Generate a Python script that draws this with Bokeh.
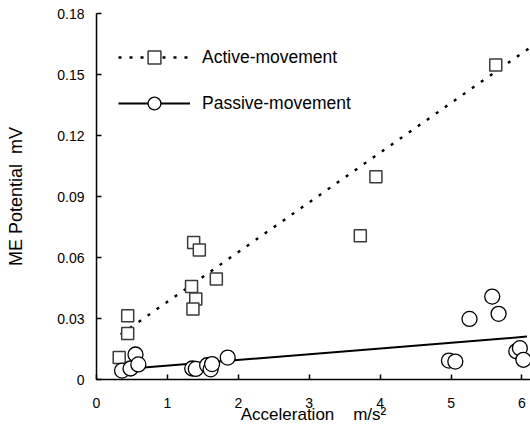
from bokeh.plotting import figure
from bokeh.models import FixedTicker, Legend, LegendItem, Range1d
from bokeh.embed import file_html
from bokeh.resources import INLINE

# ---- data ----
active_x = [0.32, 0.44, 0.44, 1.37, 1.45, 1.34, 1.40, 1.36, 1.69, 3.72, 3.94, 5.63]
active_y = [0.0108, 0.0314, 0.0226, 0.0674, 0.0637, 0.0457, 0.0396, 0.0347, 0.0494, 0.0707, 0.0997, 0.1547]

passive_x = [0.36, 0.48, 0.55, 0.59, 1.35, 1.40, 1.56, 1.61, 1.63, 1.85,
             4.97, 5.06, 5.26, 5.58, 5.67, 5.92, 5.97, 6.02]
passive_y = [0.0044, 0.0054, 0.0123, 0.0074, 0.0054, 0.0052, 0.0070, 0.0050, 0.0076, 0.0108,
             0.0093, 0.0088, 0.0298, 0.0408, 0.0323, 0.0139, 0.0154, 0.0097]

active_fit_x = [0.34, 6.12]
active_fit_y = [0.0221, 0.1634]
passive_fit_x = [0.36, 6.07]
passive_fit_y = [0.0050, 0.0211]

x_ticks = [0, 1, 2, 3, 4, 5, 6]
y_ticks = [0, 0.03, 0.06, 0.09, 0.12, 0.15, 0.18]
y_tick_labels = ["0", "0.03", "0.06", "0.09", "0.12", "0.15", "0.18"]

labels = ["Active-movement", "Passive-movement"]
x_title = "Acceleration\u00a0\u00a0\u00a0\u00a0m/s\u00b2"
y_title = "ME Potential\u00a0\u00a0mV"

FONT = "Liberation Sans"

p = figure(width=530, height=439, output_backend="svg", toolbar_location=None,
           x_range=Range1d(0, 6.12), y_range=Range1d(0, 0.18),
           min_border_left=96, min_border_right=0, min_border_top=13, min_border_bottom=60)
p.outline_line_color = None
p.xgrid.visible = False
p.ygrid.visible = False
p.background_fill_color = "white"
p.border_fill_color = "white"

for ax in (p.xaxis[0], p.yaxis[0]):
    ax.axis_line_color = "black"
    ax.axis_line_width = 1.5
    ax.major_tick_line_color = "black"
    ax.major_tick_line_width = 1.5
    ax.major_tick_in = 5
    ax.major_tick_out = 0
    ax.minor_tick_line_color = None
    ax.major_label_text_font = FONT
    ax.major_label_text_font_size = "14px"
    ax.major_label_text_color = "black"
    ax.axis_label_text_font = FONT
    ax.axis_label_text_font_size = "17px"
    ax.axis_label_text_font_style = "normal"
    ax.axis_label_text_color = "black"

p.xaxis[0].ticker = FixedTicker(ticks=x_ticks)
p.yaxis[0].ticker = FixedTicker(ticks=y_ticks)
p.yaxis[0].major_label_overrides = {t: l for t, l in zip(y_ticks, y_tick_labels)}
p.xaxis[0].axis_label = x_title
p.yaxis[0].axis_label = y_title
p.yaxis[0].axis_label_text_font_size = "18px"
p.xaxis[0].major_label_standoff = 18
p.xaxis[0].axis_label_standoff = -6
p.yaxis[0].major_label_standoff = 12
p.yaxis[0].axis_label_standoff = 28

a_line = p.line(active_fit_x, active_fit_y, line_color="black", line_width=2.4, line_dash="3 8")
a_pts = p.scatter(active_x, active_y, marker="square", size=12, fill_color="white",
                  line_color="#3a3a3a", line_width=1.5)
p_line = p.line(passive_fit_x, passive_fit_y, line_color="black", line_width=2)
p_pts = p.scatter(passive_x, passive_y, marker="circle", size=15, fill_color="white",
                  line_color="black", line_width=1.3)

legend = Legend(items=[LegendItem(label=labels[0], renderers=[a_line, a_pts]),
                       LegendItem(label=labels[1], renderers=[p_line, p_pts])],
                location=(22, 260), padding=0, margin=0, spacing=14,
                glyph_width=72, glyph_height=32, label_height=32, label_standoff=12,
                label_text_font=FONT, label_text_font_size="17.5px", label_text_color="black",
                background_fill_alpha=0, border_line_color=None)
p.add_layout(legend)

open("out.html", "w").write(file_html(p, INLINE))
